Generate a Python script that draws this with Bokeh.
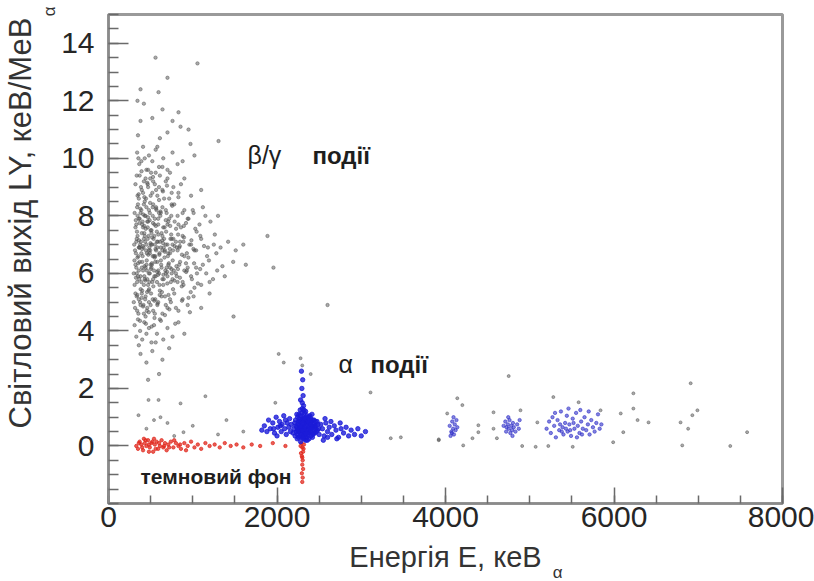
import math
from bokeh.plotting import figure
from bokeh.models import Label, Title, FixedTicker
from bokeh.embed import file_html
from bokeh.resources import INLINE

# ---------------- data ----------------
x_major_ticks = [0, 2000, 4000, 6000, 8000]
y_major_ticks = [0, 2, 4, 6, 8, 10, 12, 14]

# beta/gamma events (grey cloud): (E keV, LY)
beta_gamma_points = [
    (558, 13.5), (1056, 13.3), (700, 12.8), (380, 12.4), (594, 12.3), (344, 12.0),
    (641, 11.7), (831, 11.6), (380, 11.3), (855, 11.1), (950, 11.0), (973, 10.5), (1306, 10.6),
    (420, 11.9), (520, 11.4), (700, 10.9), (350, 10.8), (610, 10.7), (760, 11.3),
    (340, 10.2), (365, 9.8), (410, 10.4), (450, 9.6), (480, 10.1), (520, 9.9), (560, 10.3), (600, 9.7),
    (650, 10.0), (700, 9.6), (760, 10.2), (820, 9.8), (390, 9.9), (430, 10.0), (505, 9.5), (580, 10.4),
    (640, 9.7), (880, 9.9), (355, 10.0), (470, 9.6), (1020, 10.1), (730, 9.5),
    (320, 9.1), (345, 8.7), (370, 9.4), (395, 8.9), (420, 9.2), (445, 8.6), (470, 9.0), (495, 9.3),
    (520, 8.8), (550, 9.1), (580, 8.7), (610, 9.4), (640, 8.9), (680, 9.2), (720, 8.6), (770, 9.0),
    (830, 8.8), (900, 9.3), (980, 8.7), (335, 9.4), (360, 8.6), (385, 9.0), (410, 8.8), (440, 9.3),
    (465, 9.1), (500, 8.7), (530, 9.2), (565, 8.9), (600, 9.0), (660, 8.6), (700, 9.3), (750, 8.8),
    (860, 9.1), (430, 8.5), (560, 9.5), (1100, 8.9),
    (310, 8.1), (330, 7.7), (350, 8.4), (370, 7.9), (390, 8.2), (410, 7.6), (430, 8.0), (450, 8.3),
    (470, 7.8), (490, 8.1), (510, 7.5), (530, 8.4), (550, 7.9), (570, 8.2), (590, 7.7), (615, 8.0),
    (640, 8.3), (665, 7.6), (690, 8.1), (720, 7.9), (750, 8.4), (785, 7.8), (820, 8.0), (860, 7.6),
    (900, 8.2), (950, 7.9), (1010, 8.1), (1080, 7.7), (1150, 8.0), (1210, 7.8), (320, 7.6), (340, 8.3),
    (360, 7.9), (380, 8.1), (400, 7.7), (420, 8.4), (440, 8.0), (460, 7.8), (480, 8.2), (500, 7.5),
    (525, 8.0), (545, 7.7), (565, 8.3), (590, 7.9), (620, 8.1), (650, 7.6), (680, 8.2), (710, 7.8),
    (745, 8.0), (780, 8.4), (830, 7.7), (880, 8.1), (940, 7.9), (1000, 8.2), (345, 8.0), (405, 7.8),
    (465, 7.6), (525, 8.3), (600, 8.1), (700, 7.7), (1300, 8.0), (1120, 8.3),
    (305, 7.0), (325, 6.7), (345, 7.3), (365, 6.9), (385, 7.1), (405, 6.6), (425, 7.4), (445, 6.8),
    (465, 7.2), (485, 6.9), (505, 7.0), (525, 6.6), (545, 7.3), (565, 6.8), (585, 7.1), (605, 6.7),
    (630, 7.4), (655, 6.9), (680, 7.0), (705, 6.6), (735, 7.2), (765, 6.8), (800, 7.1), (840, 6.9),
    (880, 7.3), (930, 6.7), (980, 7.0), (1040, 6.8), (1100, 7.2), (1170, 6.6), (1250, 7.0), (1330, 6.9),
    (1420, 7.1), (1510, 6.8), (315, 6.8), (335, 7.2), (355, 6.6), (375, 7.0), (395, 7.4), (415, 6.9),
    (435, 7.1), (455, 6.7), (475, 7.3), (495, 6.8), (515, 7.0), (535, 7.2), (555, 6.6), (580, 6.9),
    (610, 7.1), (640, 7.3), (670, 6.8), (700, 7.0), (730, 6.7), (770, 7.2), (810, 6.9), (850, 7.1),
    (900, 6.6), (960, 7.0), (1020, 6.8), (1090, 7.3), (1180, 6.9), (1280, 6.7), (330, 7.1), (360, 6.9),
    (390, 6.7), (420, 7.2), (450, 7.0), (480, 6.8), (510, 7.4), (540, 6.6), (575, 7.1), (620, 6.9),
    (660, 7.2), (710, 6.7), (760, 7.0), (820, 6.8), (890, 7.1), (370, 6.9), (430, 7.3), (490, 6.7),
    (550, 7.0), (640, 6.8), (750, 7.2), (1600, 7.0), (1887, 7.3),
    (300, 6.0), (320, 6.3), (340, 5.7), (360, 6.1), (380, 5.9), (400, 6.4), (420, 5.6), (440, 6.2),
    (460, 5.8), (480, 6.0), (500, 6.3), (520, 5.7), (540, 6.1), (560, 5.9), (580, 6.4), (605, 5.6),
    (630, 6.2), (655, 5.8), (680, 6.0), (710, 6.3), (740, 5.7), (775, 6.1), (810, 5.9), (850, 6.4),
    (890, 5.6), (940, 6.2), (990, 5.8), (1050, 6.0), (1120, 6.3), (1200, 5.7), (1290, 6.1), (1380, 5.9),
    (1630, 6.3), (1958, 6.2), (310, 5.6), (330, 6.2), (350, 5.9), (370, 6.4), (390, 5.7), (410, 6.1),
    (430, 5.8), (450, 6.3), (470, 5.6), (490, 6.0), (510, 6.2), (530, 5.8), (555, 6.4), (575, 5.7),
    (600, 6.0), (625, 6.3), (650, 5.6), (675, 6.1), (700, 5.9), (730, 6.2), (760, 5.8), (800, 6.0),
    (840, 6.3), (880, 5.7), (930, 6.1), (980, 5.9), (1040, 6.2), (1100, 5.6), (1160, 6.0), (1240, 5.8),
    (335, 6.0), (365, 5.8), (395, 6.2), (425, 5.9), (455, 6.1), (485, 5.7), (515, 6.3), (545, 5.9),
    (590, 6.1), (640, 5.8), (690, 6.2), (750, 6.0), (820, 5.7), (900, 6.1), (1480, 6.4), (1020, 5.5),
    (300, 5.0), (320, 5.3), (340, 4.7), (360, 5.1), (380, 4.9), (400, 5.4), (420, 4.6), (440, 5.2),
    (460, 4.8), (480, 5.0), (505, 5.3), (530, 4.7), (555, 5.1), (580, 4.9), (610, 5.4), (640, 4.6),
    (670, 5.2), (700, 4.8), (740, 5.0), (780, 5.3), (830, 4.7), (880, 5.1), (940, 4.9), (1010, 5.2),
    (1100, 4.8), (315, 4.8), (335, 5.2), (355, 4.6), (375, 5.0), (395, 5.3), (415, 4.9), (435, 5.1),
    (455, 4.7), (475, 5.4), (500, 4.9), (525, 5.1), (550, 4.6), (590, 5.0), (630, 5.2), (680, 4.9),
    (730, 5.1), (800, 4.8), (1484, 4.5), (2600, 4.9), (1200, 5.3),
    (310, 4.2), (330, 3.8), (350, 4.4), (375, 4.0), (400, 3.7), (425, 4.3), (450, 3.9), (480, 4.1),
    (510, 3.6), (540, 4.2), (575, 3.9), (610, 4.4), (650, 3.7), (700, 4.1), (760, 3.8), (830, 4.3),
    (900, 3.9), (360, 3.5), (440, 4.5), (560, 3.6),
    (380, 3.2), (450, 2.9), (520, 3.3), (640, 3.0), (720, 3.4), (470, 2.3), (600, 2.5),
    (338, 7.45), (352, 6.35), (368, 7.75), (382, 5.45), (398, 6.85), (412, 8.05), (428, 6.25), (442, 7.55),
    (458, 5.35), (472, 6.65), (488, 7.85), (502, 6.15), (518, 7.25), (532, 5.55), (548, 6.55), (562, 7.65),
    (578, 6.05), (592, 7.35), (608, 5.25), (622, 6.45), (638, 7.15), (652, 5.95), (668, 6.75), (684, 7.45),
    (698, 5.65), (716, 6.35), (732, 7.65), (748, 6.15), (766, 5.45), (784, 6.95), (806, 6.25), (826, 7.35),
    (848, 5.85), (872, 6.65), (896, 7.25), (922, 6.05), (948, 6.55), (976, 5.35), (1008, 6.85), (1046, 7.45),
    (1088, 6.15), (1134, 6.95), (1192, 6.45), (1262, 7.35), (1352, 6.25),
    (326, 5.85), (344, 6.55), (362, 7.15), (378, 8.25), (394, 5.15), (408, 6.95), (424, 7.65), (438, 5.75),
    (454, 6.45), (468, 7.95), (482, 5.45), (498, 7.05), (514, 6.35), (528, 7.75), (544, 5.05), (558, 6.85),
    (574, 7.45), (588, 5.95), (604, 6.65), (618, 8.15), (634, 5.35), (648, 7.05), (664, 6.55), (680, 7.85),
    (696, 6.05), (712, 5.25), (728, 6.85), (744, 7.35), (762, 6.45), (782, 5.75), (802, 7.55), (824, 6.15),
    (846, 6.95), (870, 5.55), (894, 7.65), (920, 6.35), (950, 5.15), (984, 7.15), (1016, 6.35), (1060, 5.65),
    (308, 6.45), (324, 7.85), (342, 5.25), (358, 8.75), (374, 4.35), (392, 9.55), (410, 4.85), (426, 8.65),
    (444, 4.25), (460, 9.15), (478, 4.65), (494, 8.45), (512, 4.15), (528, 9.35), (546, 4.45), (564, 8.25),
    (582, 4.95), (600, 8.55), (622, 4.35), (646, 8.85), (670, 4.55), (694, 9.05), (722, 4.75), (756, 8.35),
    (792, 4.25), (830, 8.65), (872, 5.05), (920, 7.75), (966, 4.65), (1030, 7.55),
]

# grey events outside the beta/gamma band
other_points = [
    (475, 1.6), (594, 1.6), (855, 1.48), (1150, 1.73), (356, 1.07), (617, 1.0), (700, 0.8),
    (890, 0.48), (450, 0.6), (540, 0.9), (780, 0.35), (1000, 0.7), (1300, 0.4), (1600, 0.5), (1400, 0.9),
    (2020, 3.2), (2080, 2.9), (2280, 3.05), (2400, 2.5), (1980, 1.5), (2300, 2.8),
    (3110, 1.86), (3350, 0.27), (3470, 0.3), (3920, 0.2), (4750, 2.43), (4140, 1.66), (4200, 1.42),
    (4020, 1.13), (3920, 0.23), (4210, 0.02), (4320, 0.27), (4390, 0.72), (4390, 0.48), (4570, 1.17),
    (4570, 0.6), (4610, 0.27), (4890, 1.24), (4910, 0.0), (5070, -0.03), (5090, 0.82), (5220, 0.0),
    (5510, -0.03), (5280, 1.7), (5580, 1.52), (5840, 1.24), (5990, 0.13), (6080, 1.13), (6110, 0.48),
    (6230, 1.83), (6230, 1.3), (6280, 0.9), (6410, 0.82), (6790, 0.82), (6810, 0.02), (6880, 0.6),
    (6910, 2.18), (6930, 1.07), (6990, 1.24), (7380, 0.0), (7580, 0.48),
]

# dark background (red)
dark_points = [
    (330, 0.0), (350, -0.1), (370, 0.15), (390, 0.05), (410, -0.15), (430, 0.1), (450, 0.0), (470, 0.2),
    (490, -0.05), (510, 0.1), (530, -0.2), (550, 0.05), (570, 0.15), (590, -0.1), (610, 0.0), (630, 0.2),
    (650, -0.05), (670, 0.1), (690, -0.15), (710, 0.05), (740, 0.15), (770, -0.05), (800, 0.1), (830, 0.0),
    (860, -0.1), (900, 0.1), (940, 0.0), (980, 0.15), (1020, -0.05), (1060, 0.05), (1100, -0.1), (1150, 0.1),
    (1200, 0.0), (1260, 0.05), (1320, -0.05), (1380, 0.1), (1450, 0.0), (1520, 0.05), (1600, -0.05),
    (1700, 0.05), (1800, 0.0), (1950, 0.1), (2100, 0.0), (360, 0.1), (400, -0.05), (440, 0.2), (480, 0.05),
    (520, 0.15), (560, -0.1), (600, 0.1), (660, 0.0), (720, -0.05), (780, 0.2), (850, 0.05), (920, -0.15),
    (480, -0.2), (420, 0.25), (540, 0.25),
    (2290, 0.1), (2300, -0.05), (2310, -0.2), (2295, -0.35), (2305, -0.5), (2300, -0.65), (2310, -0.8),
    (2295, -0.95), (2305, -1.1), (2300, -1.25), (2315, -0.1), (2285, -0.25), (2320, 0.05), (2280, 0.0),
    (2300, -0.4),
]

# alpha events around 2300 keV (blue)
alpha_points_main = [
    (2200, 0.6), (2220, 0.9), (2240, 0.4), (2250, 0.75), (2260, 1.1), (2270, 0.5), (2280, 0.85), (2290, 0.3),
    (2300, 0.65), (2310, 1.0), (2320, 0.45), (2330, 0.8), (2340, 0.2), (2350, 0.6), (2360, 0.95), (2370, 0.4),
    (2380, 0.7), (2390, 1.05), (2400, 0.5), (2410, 0.85), (2420, 0.3), (2430, 0.65), (2440, 0.9), (2450, 0.45),
    (2460, 0.7), (2480, 0.55), (2500, 0.4), (2520, 0.75), (2210, 0.8), (2230, 0.5), (2245, 1.0), (2255, 0.3),
    (2265, 0.7), (2275, 1.25), (2285, 0.55), (2295, 0.9), (2305, 0.35), (2315, 0.75), (2325, 1.15), (2335, 0.5),
    (2345, 0.85), (2355, 0.3), (2365, 0.7), (2375, 1.0), (2385, 0.45), (2395, 0.8), (2405, 0.6), (2415, 1.1),
    (2425, 0.4), (2435, 0.75), (2455, 0.6), (2475, 0.85), (2495, 0.6), (2190, 0.45), (2235, 0.65), (2280, 0.15),
    (2300, 1.3), (2320, 0.25), (2340, 1.2), (2360, 0.55), (2380, 0.25), (2400, 0.95), (2440, 0.55), (2290, 0.7),
    (2310, 0.55), (2330, 0.65), (2270, 0.85), (2350, 0.8), (2300, 0.5), (2320, 0.9), (2260, 0.6), (2380, 0.5),
    (2340, 0.4),
    (2225, 0.7), (2245, 0.55), (2265, 0.95), (2285, 0.4), (2305, 0.8), (2325, 0.6), (2345, 1.0), (2365, 0.85),
    (2385, 0.65), (2405, 0.35), (2425, 0.9), (2445, 0.7), (2465, 0.5), (2485, 0.75), (2215, 0.35), (2235, 1.1),
    (2255, 0.85), (2275, 0.65), (2295, 1.15), (2315, 0.95), (2335, 0.3), (2355, 1.05), (2375, 0.55), (2395, 0.6),
    (2415, 0.7), (2435, 0.45), (2455, 0.85), (2240, 0.25), (2320, 1.25), (2360, 0.2), (2280, 1.05), (2400, 0.75),
    (2330, 0.95), (2270, 0.35), (2350, 0.45), (2290, 0.55), (2310, 0.3), (2370, 0.85), (2250, 0.5), (2390, 0.9),
    (1850, 0.7), (1880, 0.5), (1900, 0.9), (1920, 0.6), (1950, 0.8), (1970, 0.45), (1990, 1.0), (2010, 0.65),
    (2030, 0.85), (2050, 0.5), (2060, 0.75), (2080, 1.05), (2090, 0.6), (2110, 0.4), (2120, 0.8), (2140, 0.65),
    (2150, 0.95), (2160, 0.5), (2170, 0.75), (1960, 0.6), (2040, 0.7), (2000, 0.35), (1820, 0.55), (2100, 0.9),
    (2540, 0.6), (2560, 0.35), (2580, 0.8), (2600, 0.5), (2620, 0.65), (2650, 0.4), (2680, 0.7), (2700, 0.55),
    (2730, 0.3), (2760, 0.6), (2790, 0.45), (2820, 0.65), (2850, 0.35), (2880, 0.55), (2920, 0.4), (2960, 0.6),
    (3000, 0.35), (3050, 0.5), (2570, 0.95), (2640, 0.85), (2710, 0.25), (2550, 0.2), (2600, 0.3), (2750, 0.8),
    (2300, 1.5), (2310, 1.75), (2295, 2.0), (2305, 2.3), (2290, 2.6), (2315, 1.4), (2280, 1.6),
]

# alpha events at higher energies (blue, sparser)
alpha_points_high = [
    (4050, 0.7), (4070, 0.5), (4080, 0.85), (4090, 0.6), (4100, 0.4), (4110, 0.75), (4120, 0.55), (4130, 0.9),
    (4060, 0.35), (4140, 0.65), (4095, 1.0), (4075, 0.45),
    (4690, 0.7), (4710, 0.85), (4720, 0.5), (4740, 0.75), (4750, 0.6), (4760, 0.9), (4770, 0.45), (4780, 0.7),
    (4790, 0.55), (4800, 0.8), (4810, 0.65), (4830, 0.5), (4850, 0.75), (4870, 0.6), (4745, 1.0), (4795, 0.35),
    (4725, 0.65), (4880, 0.9),
    (5200, 0.6), (5230, 0.85), (5250, 0.45), (5270, 1.0), (5290, 0.7), (5310, 0.3), (5330, 0.9), (5350, 0.55),
    (5370, 1.2), (5390, 0.65), (5400, 0.4), (5420, 0.8), (5440, 1.05), (5450, 0.5), (5470, 0.75), (5490, 0.35),
    (5510, 0.95), (5530, 0.6), (5550, 1.15), (5570, 0.7), (5590, 0.45), (5610, 0.85), (5630, 0.6), (5650, 1.0),
    (5670, 0.55), (5690, 0.75), (5710, 0.4), (5730, 0.9), (5750, 0.65), (5770, 0.5), (5790, 0.8), (5810, 1.1),
    (5830, 0.6), (5850, 0.75), (5380, 0.5), (5430, 0.6), (5460, 1.3), (5300, 1.15), (5560, 0.3), (5600, 1.25),
    (5700, 1.2), (5360, 0.75), (5480, 0.55), (5520, 0.8), (5620, 0.4),
]

bg_E = [pt[0] for pt in beta_gamma_points]
bg_LY = [pt[1] for pt in beta_gamma_points]
oth_E = [pt[0] for pt in other_points]
oth_LY = [pt[1] for pt in other_points]
dark_E = [pt[0] for pt in dark_points]
dark_LY = [pt[1] for pt in dark_points]
alm_E = [pt[0] for pt in alpha_points_main]
alm_LY = [pt[1] for pt in alpha_points_main]
alh_E = [pt[0] for pt in alpha_points_high]
alh_LY = [pt[1] for pt in alpha_points_high]

FONT = "Liberation Sans"

p = figure(width=814, height=581, output_backend="svg", toolbar_location=None,
           x_range=(0, 8000), y_range=(-2, 15),
           min_border_left=108, min_border_right=32, min_border_top=14, min_border_bottom=78)
p.background_fill_color = "white"
p.border_fill_color = "white"
p.xgrid.visible = False
p.ygrid.visible = False
p.outline_line_color = "#9a9a9a"
p.outline_line_width = 3

# points
p.scatter(bg_E, bg_LY, size=3.4, color="#555555", alpha=0.5)
p.scatter(oth_E, oth_LY, size=3.0, color="#555555", alpha=0.5)
p.scatter(dark_E, dark_LY, size=3.4, color="#e0281e", alpha=0.75)
p.scatter(alh_E, alh_LY, size=3.4, color="#3030c8", alpha=0.6)
p.scatter(alm_E, alm_LY, size=4.4, color="#1c1cd8", alpha=0.8)

# axes
p.xaxis.ticker = FixedTicker(ticks=x_major_ticks, minor_ticks=[500 * i for i in range(17)])
p.yaxis.ticker = FixedTicker(ticks=y_major_ticks, minor_ticks=[-2 + 0.5 * i for i in range(35)])
for ax in (p.xaxis[0], p.yaxis[0]):
    ax.axis_line_color = "#8a8a8a"
    ax.axis_line_width = 2
    ax.major_tick_line_color = "#6a6a6a"
    ax.minor_tick_line_color = "#6a6a6a"
    ax.major_tick_line_width = 1.5
    ax.minor_tick_line_width = 1.5
    ax.major_tick_out = 0
    ax.minor_tick_out = 0
    ax.major_label_text_font = FONT
    ax.major_label_text_font_size = "30px"
    ax.major_label_text_color = "#262626"
p.xaxis.major_tick_in = 16
p.xaxis.minor_tick_in = 8
p.yaxis.major_tick_in = 20
p.yaxis.minor_tick_in = 10
p.xaxis.major_label_standoff = 3
p.yaxis.major_label_standoff = 14

p.xaxis.axis_label = "Енергія Е, кеВ"
p.xaxis.axis_label_text_font = FONT
p.xaxis.axis_label_text_font_size = "29px"
p.xaxis.axis_label_text_font_style = "normal"
p.xaxis.axis_label_text_color = "#333333"
p.xaxis.axis_label_standoff = 11

# y label as titles on the left: subscript nearer the axis, main text outside
p.add_layout(Title(text="α", align="right", offset=-8, standoff=0,
                   text_font=FONT, text_font_size="17px", text_font_style="normal",
                   text_color="#333333"), "left")
p.add_layout(Title(text="Світловий вихід LY, кеВ/МеВ", align="left", offset=75, standoff=0,
                   text_font=FONT, text_font_size="31px", text_font_style="normal",
                   text_color="#333333"), "left")

# subscript of the x label (placed by data scales, kept in a side panel so it is not clipped)
p.add_layout(Label(x=5330, y=-4.39, text="α", text_font=FONT, text_font_size="17px",
                   text_color="#333333", text_align="center", text_baseline="middle"), "right")

# annotations
ann = dict(text_font=FONT, text_color="#1e1e1e", text_baseline="middle", text_align="left")
p.add_layout(Label(x=1650, y=10.1, text="β/γ", text_font_size="25px", **ann))
p.add_layout(Label(x=2420, y=10.1, text="події", text_font_size="24px", text_font_style="bold", **ann))
p.add_layout(Label(x=2730, y=2.84, text="α", text_font_size="25px", **ann))
p.add_layout(Label(x=3110, y=2.84, text="події", text_font_size="24px", text_font_style="bold", **ann))
p.add_layout(Label(x=380, y=-1.05, text="темновий фон", text_font_size="21px", text_font_style="bold", **ann))

open("out.html", "w").write(file_html(p, INLINE))
